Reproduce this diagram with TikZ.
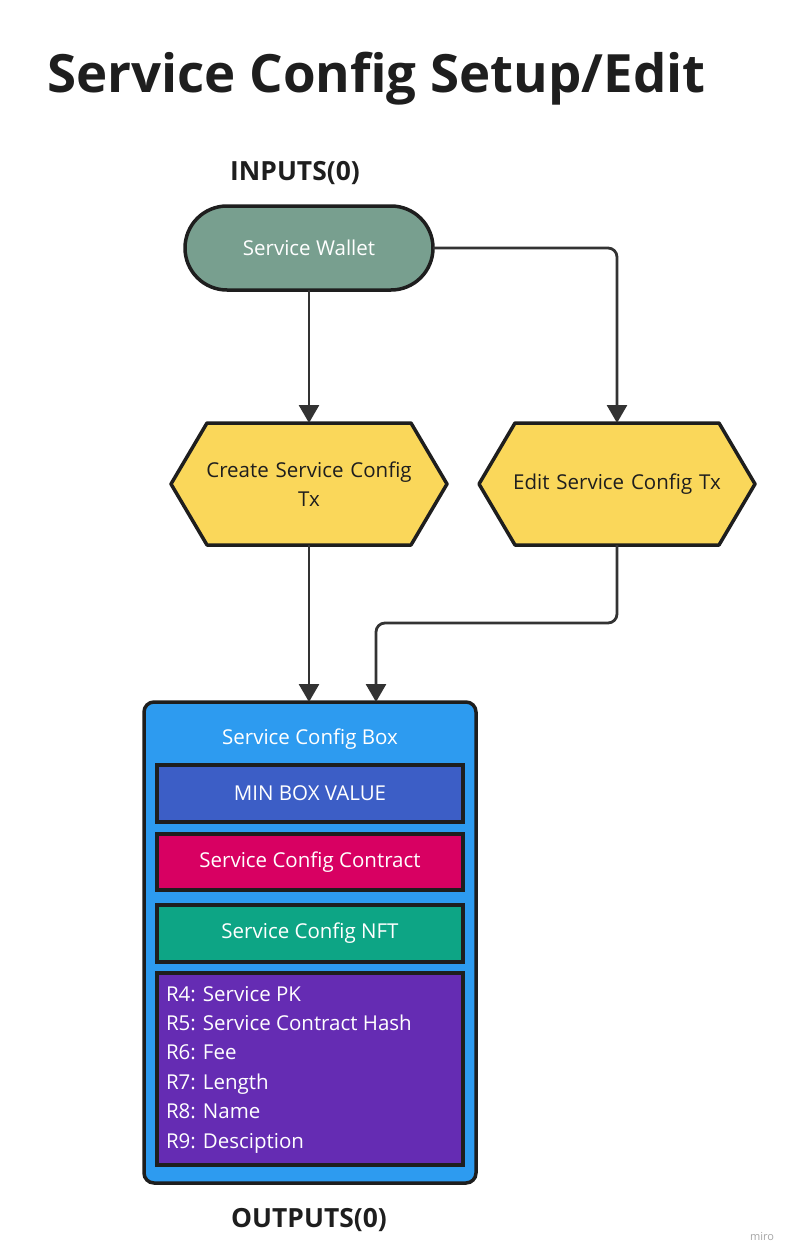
\documentclass[tikz,border=0pt]{standalone}
\usepackage{fontspec}
\setmainfont{Open Sans}
\usetikzlibrary{arrows.meta,positioning,calc}
\definecolor{walletfill}{HTML}{789F8F}
\definecolor{hexfill}{HTML}{FAD75A}
\definecolor{outerblue}{HTML}{2D9BF0}
\definecolor{minblue}{HTML}{3C5EC6}
\definecolor{contractred}{HTML}{D80062}
\definecolor{nftteal}{HTML}{0DA585}
\definecolor{regpurple}{HTML}{652CB3}
\definecolor{edge}{HTML}{1E1E1E}
\definecolor{conncol}{HTML}{333333}
\begin{document}
\begin{tikzpicture}[x=1pt,y=-1pt,
  every node/.style={inner sep=0pt,outer sep=0pt},
  bodytext/.style={font=\fontsize{20.5}{29}\selectfont},
  heading/.style={font=\fontsize{26.4}{30}\selectfont\bfseries,text=edge},
  wallet/.style={draw=edge,line width=3.5pt,fill=walletfill,rounded corners=42pt,
    minimum width=248pt,minimum height=84pt,text=white,bodytext},
  hexnode/.style={minimum width=276pt,minimum height=122pt,text width=230pt,align=center,bodytext,text=edge},
  hexline/.style={draw=edge,line width=3.5pt,fill=hexfill,line join=round},
  outerbox/.style={draw=edge,line width=3.5pt,fill=outerblue,rounded corners=10pt,
    minimum width=332pt,minimum height=481pt},
  field/.style={draw=edge,line width=3.5pt,minimum width=306pt,text=white,bodytext},
  conn/.style={draw=conncol,line width=2.8pt,-{Triangle[width=20pt,length=18pt]}},
]
\useasboundingbox[fill=white] (0,0) rectangle (793,1260);

\node[anchor=base west,font=\fontsize{52.8}{58}\selectfont\bfseries,text=edge] (title) at (47,93) {Service Config Setup/Edit};
\node[heading] (inputs) at (295,173) {INPUTS(0)};

\node[wallet] (wallet) at (309,248) {Service Wallet};

\node[hexnode] (create) at (309,484) {};
\path[hexline] (create.west) -- ([xshift=36pt]create.north west) -- ([xshift=-36pt]create.north east)
  -- (create.east) -- ([xshift=-36pt]create.south east) -- ([xshift=36pt]create.south west) -- cycle;
\node[hexnode] at (create) {Create Service Config\\Tx};

\node[hexnode] (edit) at (617,484) {};
\path[hexline] (edit.west) -- ([xshift=36pt]edit.north west) -- ([xshift=-36pt]edit.north east)
  -- (edit.east) -- ([xshift=-36pt]edit.south east) -- ([xshift=36pt]edit.south west) -- cycle;
\node[hexnode] at (edit) {Edit Service Config Tx};

\node[outerbox] (box) at (310,942.5) {};
\node[bodytext,text=white] (boxtitle) at (310,739) {Service Config Box};
\node[field,fill=minblue,minimum height=57pt] (minval) at (310,793.5) {MIN BOX VALUE};
\node[field,fill=contractred,minimum height=56pt] (contract) at (310,862) {Service Config Contract};
\node[field,fill=nftteal,minimum height=57pt] (nft) at (310,933.5) {Service Config NFT};
\node[field,fill=regpurple,minimum height=192pt] (regs) at (310,1069) {};
\node[anchor=north west,text=white,align=left,font=\fontsize{20.5}{29.4}\selectfont] (regtext) at (166,986)
  {R4: Service PK\\R5: Service Contract Hash\\R6: Fee\\R7: Length\\R8: Name\\R9: Desciption};

\node[heading] (outputs) at (309,1220) {OUTPUTS(0)};
\node[font=\fontsize{11}{13}\selectfont,text=black!35] (miro) at (762,1237) {miro};

\draw[conn] (wallet.south) -- (create.north);
\draw[conn,rounded corners=9pt] (wallet.east) -| (edit.north);
\draw[conn] (create.south) -- (create.south |- box.north);
\draw[conn,rounded corners=9pt] (edit.south) -- ++(0,78) -| ([xshift=66pt]box.north);
\end{tikzpicture}
\end{document}
